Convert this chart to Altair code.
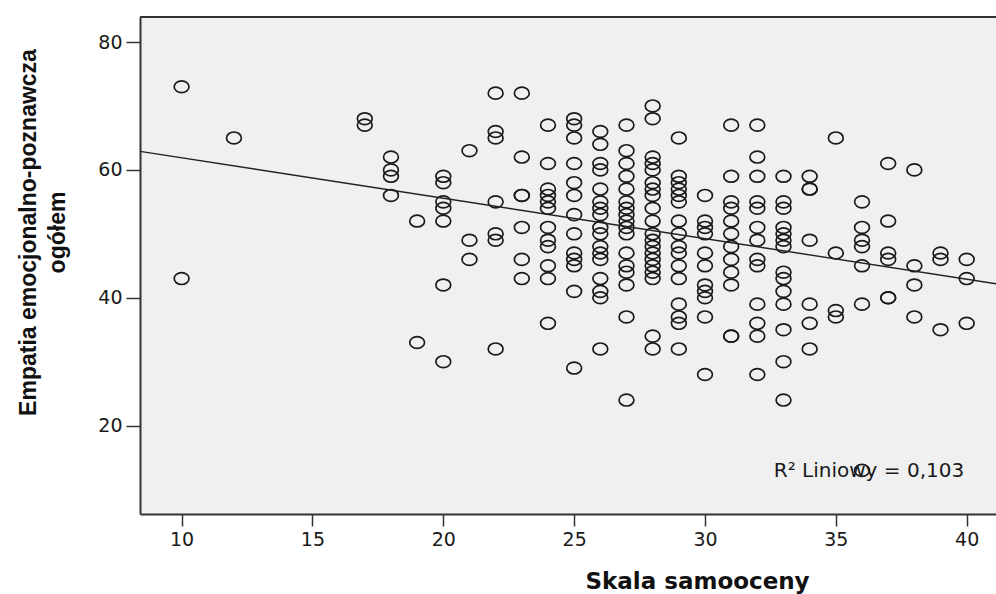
import altair as alt
import pandas as pd

# Skala samooceny (x) and Empatia emocjonalno-poznawcza ogółem (y), column by column
samoocena = (
    [10] * 2 + [12] * 1 + [17] * 2 + [18] * 4 + [19] * 2 + [20] * 7 + [21] * 3
    + [22] * 7 + [23] * 7 + [24] * 12 + [25] * 13 + [26] * 17 + [27] * 17
    + [28] * 20 + [29] * 16 + [30] * 11 + [31] * 12 + [32] * 13 + [33] * 14
    + [34] * 7 + [35] * 4 + [36] * 7 + [37] * 6 + [38] * 4 + [39] * 3 + [40] * 3
)
empatia = (
    [73, 43]
    + [65]
    + [68, 67]
    + [62, 60, 59, 56]
    + [52, 33]
    + [59, 58, 55, 54, 52, 42, 30]
    + [63, 49, 46]
    + [72, 66, 65, 55, 50, 49, 32]
    + [72, 62, 56, 56, 51, 46, 43]
    + [67, 61, 57, 56, 55, 54, 51, 49, 48, 45, 43, 36]
    + [68, 67, 65, 61, 58, 56, 53, 50, 47, 46, 45, 41, 29]
    + [66, 64, 61, 60, 57, 55, 54, 53, 51, 50, 48, 47, 46, 43, 41, 40, 32]
    + [67, 63, 61, 59, 57, 55, 54, 53, 52, 51, 50, 47, 45, 44, 42, 37, 24]
    + [70, 68, 62, 61, 60, 58, 57, 56, 54, 52, 50, 49, 48, 47, 46, 45, 44, 43, 34, 32]
    + [65, 59, 58, 57, 56, 55, 52, 50, 48, 47, 45, 43, 39, 37, 36, 32]
    + [56, 52, 51, 50, 47, 45, 42, 41, 40, 37, 28]
    + [67, 59, 55, 54, 52, 50, 48, 46, 44, 42, 34, 34]
    + [67, 62, 59, 55, 54, 51, 49, 46, 45, 39, 36, 34, 28]
    + [59, 55, 54, 51, 50, 49, 48, 44, 43, 41, 39, 35, 30, 24]
    + [59, 57, 57, 49, 39, 36, 32]
    + [65, 47, 38, 37]
    + [55, 51, 49, 48, 45, 39, 13]
    + [61, 52, 47, 46, 40, 40]
    + [60, 45, 42, 37]
    + [47, 46, 35]
    + [46, 43, 36]
)

# fitted linear regression line (as drawn in the reference), endpoints at the frame edges
fit_x = [8.41, 41.12]
fit_y = [62.9, 42.2]

x_ticks = [10, 15, 20, 25, 30, 35, 40]
y_ticks = [20, 40, 60, 80]
x_domain = [8.41, 41.12]
y_domain = [6.18, 83.91]

r2_label = ["R² Liniowy = 0,103"]
r2_x = [32.63]
r2_y = [12.0]

df = pd.DataFrame({"x": samoocena, "y": empatia})
fit_df = pd.DataFrame({"x": fit_x, "y": fit_y})
ann = pd.DataFrame({"x": r2_x, "y": r2_y, "t": r2_label})
one = pd.DataFrame({"a": [0]})

W, H = 856, 497

ellipse = "M -1 0 A 1 0.8 0 1 0 1 0 A 1 0.8 0 1 0 -1 0 Z"

xscale = alt.Scale(domain=x_domain, nice=False, zero=False)
yscale = alt.Scale(domain=y_domain, nice=False, zero=False)

xaxis = alt.Axis(
    values=x_ticks, title="Skala samooceny", grid=False,
    tickSize=12, tickWidth=1.5, tickColor="#333",
    domainColor="#333", domainWidth=2,
    labelFont="DejaVu Sans", labelFontSize=19, labelColor="#1a1a1a",
    labelPadding=4, labelFlush=False, labelOverlap=False,
    titleFont="DejaVu Sans", titleFontWeight="bold", titleFontSize=23,
    titleColor="#111", titleX=557, titleY=74, titleAlign="center",
    titleBaseline="alphabetic",
)
yaxis = alt.Axis(
    values=y_ticks, title=["Empatia emocjonalno-poznawcza", "ogółem"], grid=False,
    tickSize=14, tickWidth=1.5, tickColor="#333",
    domainColor="#333", domainWidth=2,
    labelFont="DejaVu Sans", labelFontSize=19, labelColor="#1a1a1a",
    labelPadding=4, labelFlush=False, labelOverlap=False,
    titleFont="Liberation Sans", titleFontWeight="bold", titleFontSize=23,
    titleColor="#111", titleAngle=270, titleX=-105, titleY=215,
    titleAlign="center", titleBaseline="alphabetic", titleLineHeight=29,
)

points = alt.Chart(df).mark_point(
    shape=ellipse, filled=False, size=220, stroke="#1a1a1a",
    strokeWidth=1.7, opacity=1,
).encode(
    x=alt.X("x:Q", scale=xscale, axis=xaxis),
    y=alt.Y("y:Q", scale=yscale, axis=yaxis),
)

fit = alt.Chart(fit_df).mark_line(color="#222", strokeWidth=1.4, clip=True).encode(
    x=alt.X("x:Q", scale=xscale),
    y=alt.Y("y:Q", scale=yscale),
)

label = alt.Chart(ann).mark_text(
    align="left", baseline="alphabetic", font="DejaVu Sans",
    fontSize=20, color="#1a1a1a",
).encode(
    x=alt.X("x:Q", scale=xscale),
    y=alt.Y("y:Q", scale=yscale),
    text="t:N",
)

top_border = alt.Chart(one).mark_rule(color="#333", strokeWidth=2).encode(
    x=alt.value(0), x2=alt.value(W), y=alt.value(0)
)

chart = alt.layer(points, fit, label, top_border).properties(
    width=W, height=H,
    padding={"left": 140, "top": 17, "right": 0, "bottom": 80},
    autosize=alt.AutoSizeParams(type="none"),
    background="white",
).configure_view(fill="#f0f0f0", stroke=None)

chart.save("out.html", embed_options={"renderer": "svg", "actions": False})
